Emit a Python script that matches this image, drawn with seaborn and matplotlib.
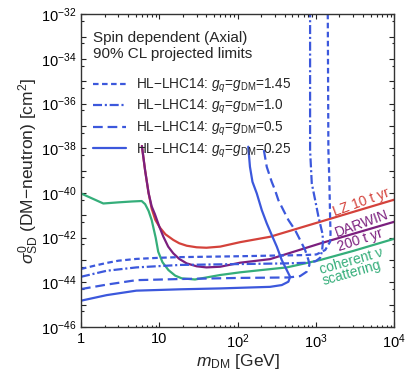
import numpy as np
import pandas as pd
import seaborn as sns
import matplotlib.pyplot as plt
from matplotlib.lines import Line2D
from matplotlib.ticker import FixedLocator, LogLocator, NullFormatter

# --- data: m_DM [GeV] and log10(sigma [cm^2]) ---
nu_m = [1, 1.93, 3, 4.5, 5.96, 6.6, 7.3, 8.0, 9.0, 9.7, 11, 13.1, 16, 19.4, 28.6,
        40, 60, 108, 200, 425, 1133, 3020, 10000]
nu_logs = [-40.02, -40.47, -40.42, -40.38, -40.36, -40.5, -40.8, -41.21, -42.0, -42.63,
           -43.1, -43.45, -43.7, -43.82, -43.87, -43.78, -43.67, -43.55, -43.45, -43.33,
           -43.0, -42.59, -42.05]

lz_m = [6.0, 6.6, 7.3, 8.0, 8.9, 10.2, 12, 15.1, 18, 22.4, 30, 40, 60, 108, 260, 1133, 10000]
lz_logs = [-37.9, -39.0, -40.0, -40.7, -41.2, -41.55, -41.85, -42.1, -42.25, -42.36,
           -42.43, -42.45, -42.4, -42.2, -41.96, -41.29, -40.3]

darwin_m = [6.0, 6.6, 7.3, 8.0, 8.8, 10, 11.3, 13, 15.1, 18, 22.4, 30, 40, 60, 108, 260,
            1133, 10000]
darwin_logs = [-37.9, -39.0, -40.0, -40.6, -40.95, -41.5, -41.96, -42.4, -42.7, -42.95,
               -43.15, -43.28, -43.33, -43.3, -43.12, -42.96, -42.26, -41.29]

# HL-LHC14 contours (g_q = g_DM)
g145_m = [1, 1.5, 2.13, 3, 5.1, 10, 18.4, 108, 300, 700, 1019, 1318, 1520, 1540, 1520,
          1490, 1446, 1420]
g145_logs = [-43.4, -43.25, -43.13, -43.03, -42.95, -42.9, -42.87, -42.83, -42.8, -42.78,
             -42.75, -42.55, -42.18, -41.81, -41.06, -39.57, -38.08, -32]

g10_m = [1, 2.13, 5.1, 18.4, 108, 425, 800, 1000, 1133, 1200, 1230, 1220, 1079, 980,
         887, 844, 844]
g10_logs = [-43.75, -43.48, -43.33, -43.22, -43.18, -43.15, -43.12, -43.05, -42.9, -42.6,
            -42.2, -41.85, -41.06, -40.32, -39.57, -38.08, -32]

g05_m = [1, 2.13, 5.1, 18.4, 108, 446, 629, 766, 828, 804, 729, 629, 543, 446, 385, 332,
         301, 273, 236, 213]
g05_logs = [-44.3, -44.1, -43.9, -43.85, -43.8, -43.78, -43.72, -43.52, -43.22, -43.0,
            -42.55, -42.1, -41.66, -41.21, -40.77, -40.32, -39.87, -39.5, -38.83, -37.93]

g025_m = [1, 2.13, 5.1, 18.4, 60, 260, 367, 446, 469, 425, 367, 317, 273, 236, 204, 176,
          155, 144, 137]
g025_logs = [-44.82, -44.57, -44.37, -44.31, -44.27, -44.2, -44.12, -43.97, -43.75, -43.45,
             -43.0, -42.4, -41.88, -41.36, -40.77, -40.02, -39.5, -38.83, -37.93]

lhc_labels = [r"HL$-$LHC14: $g_q$=$g_{\rm DM}$=1.45",
              r"HL$-$LHC14: $g_q$=$g_{\rm DM}$=1.0",
              r"HL$-$LHC14: $g_q$=$g_{\rm DM}$=0.5",
              r"HL$-$LHC14: $g_q$=$g_{\rm DM}$=0.25"]

BLUE = "#3c58dc"
RED = "#d4423b"
PURPLE = "#7b1f7e"
GREEN = "#35ae7a"

sns.set_style("ticks")
plt.rcParams['font.family'] = ['Liberation Sans', 'DejaVu Sans']
plt.rcParams['mathtext.fontset'] = 'custom'
plt.rcParams['mathtext.rm'] = 'Liberation Sans'
plt.rcParams['mathtext.it'] = 'Liberation Sans:italic'
plt.rcParams['mathtext.bf'] = 'Liberation Sans:bold'
plt.rcParams['lines.scale_dashes'] = False

fig, ax = plt.subplots(figsize=(4.11, 3.83), dpi=100)
fig.subplots_adjust(left=0.197, right=0.959, bottom=0.146, top=0.963)


def draw(m, logs, color, ls='-', lw=1.6):
    df = pd.DataFrame({'m': m, 'sigma': np.power(10.0, logs)})
    sns.lineplot(data=df, x='m', y='sigma', sort=False, estimator=None, ax=ax,
                 color=color, linestyle=ls, linewidth=lw, legend=False)


draw(nu_m, nu_logs, GREEN)
draw(lz_m, lz_logs, RED)
draw(darwin_m, darwin_logs, PURPLE)

ls_145 = (0, (4, 2.5))
ls_10 = (0, (6.5, 2, 1.5, 2))
ls_05 = (0, (7, 3.5))
draw(g145_m, g145_logs, BLUE, ls_145)
draw(g10_m, g10_logs, BLUE, ls_10)
draw(g05_m, g05_logs, BLUE, ls_05)
draw(g025_m, g025_logs, BLUE, '-')

ax.set_xscale('log')
ax.set_yscale('log')
ax.set_xlim(1, 1e4)
ax.set_ylim(1e-46, 1e-32)

# ticks
ax.set_yticks([10.0 ** e for e in range(-46, -31)])
ax.set_yticklabels([r"$10^{%d}$" % e if e % 2 == 0 else "" for e in range(-46, -31)])
ax.yaxis.set_minor_locator(FixedLocator([5 * 10.0 ** e for e in range(-46, -32)]))
ax.yaxis.set_minor_formatter(NullFormatter())
ax.xaxis.set_minor_locator(LogLocator(base=10, subs=np.arange(2, 10), numticks=20))
ax.xaxis.set_minor_formatter(NullFormatter())
ax.set_xticks([1, 10, 100, 1000, 10000])
ax.set_xticklabels(["1", "10", r"$10^2$", r"$10^3$", r"$10^4$"])

ax.tick_params(which='both', direction='in', top=True, right=True, width=0.8,
               colors='#222222', labelcolor='black')
ax.tick_params(which='major', length=3.5, labelsize=10.5, pad=3.5)
ax.tick_params(which='minor', length=1.8)
for s in ax.spines.values():
    s.set_linewidth(1.0)
    s.set_color('#333333')

ax.set_xlabel(r"$m_{\rm DM}$ [GeV]", fontsize=12.5, labelpad=1)
ax.set_ylabel(r"$\sigma^0_{\rm SD}$ (DM$-$neutron) [cm$^2$]", fontsize=12.5, labelpad=0)

# curve labels
ax.text(3787, 10 ** -40.41, "LZ 10 t yr", color=RED, fontsize=10, rotation=20,
        ha='center', va='center')
ax.text(3900, 10 ** -41.39, "DARWIN", color=PURPLE, fontsize=10, rotation=20,
        ha='center', va='center')
ax.text(3675, 10 ** -42.11, "200 t yr", color=PURPLE, fontsize=10, rotation=18,
        ha='center', va='center')
ax.text(2818, 10 ** -43.05, "coherent ν", color=GREEN, fontsize=10, rotation=16,
        ha='center', va='center')
ax.text(2904, 10 ** -43.58, "scattering", color=GREEN, fontsize=10, rotation=16,
        ha='center', va='center')

handles = [Line2D([], [], color=BLUE, lw=1.6, linestyle=ls)
           for ls in (ls_145, ls_10, ls_05, '-')]
leg = ax.legend(handles, lhc_labels, title="Spin dependent (Axial)\n90% CL projected limits",
                loc='upper left', bbox_to_anchor=(0.04, 0.946), frameon=False,
                fontsize=9.8, title_fontsize=11, handlelength=2.4, handletextpad=0.7,
                labelspacing=0.24, borderpad=0, borderaxespad=0, alignment='left')
leg._legend_box.sep = 11

plt.savefig("out.png", dpi=100)
plt.close()
